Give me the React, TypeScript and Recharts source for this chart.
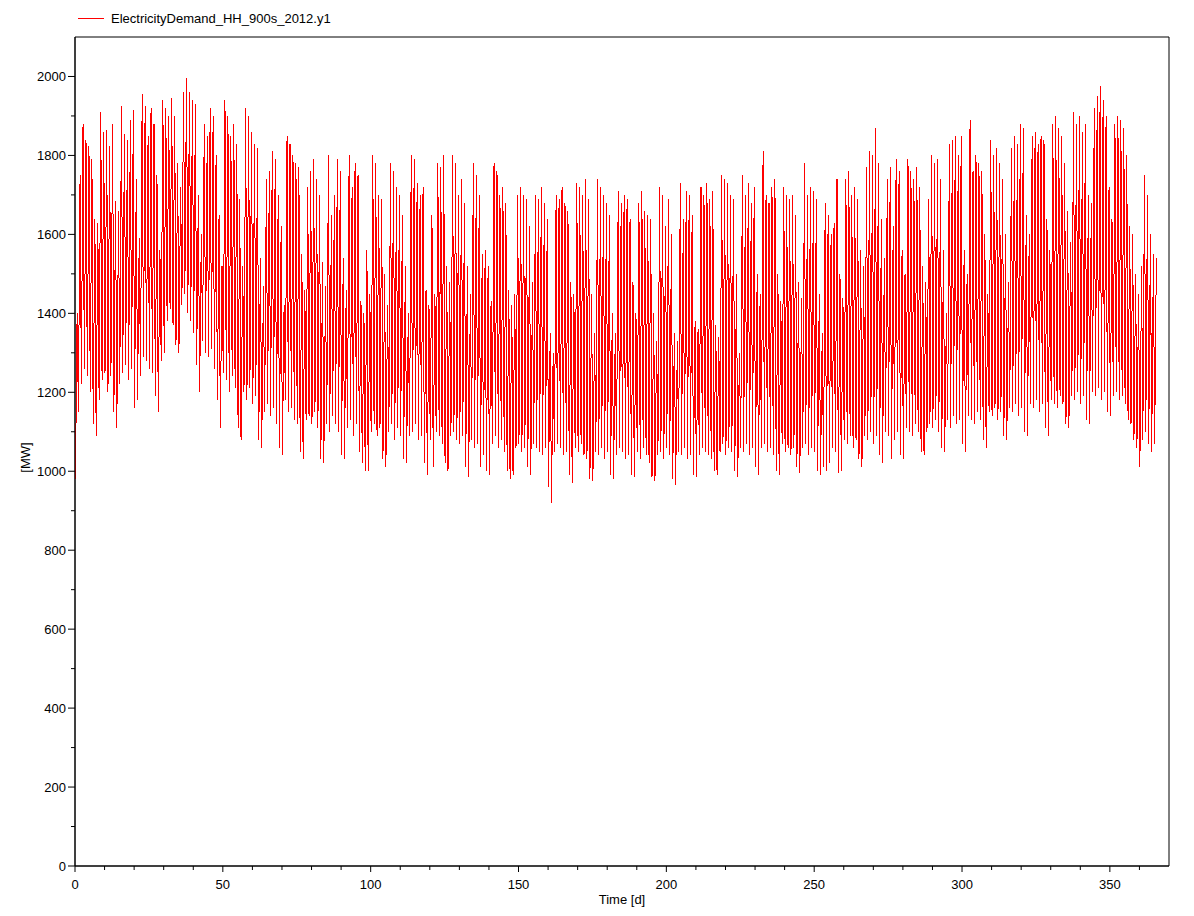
import { LineChart, Line, XAxis, YAxis, ReferenceArea, Label } from "recharts";

// daily evening peak [MW], one row per week (Mon..Sun), day 0 = Sun 1 Jan 2012
const dailyPeak = [
  1400,
  1750, 1880, 1840, 1825, 1790, 1640, 1630,
  1910, 1860, 1865, 1825, 1880, 1685, 1660,
  1925, 1855, 1840, 1890, 1915, 1740, 1590,
  1955, 1925, 1850, 1920, 1880, 1750, 1560,
  1940, 1920, 1900, 1945, 1900, 1780, 1720,
  1960, 1995, 1960, 1940, 1930, 1700, 1600,
  1880, 1850, 1920, 1900, 1800, 1650, 1520,
  1940, 1900, 1850, 1880, 1830, 1690, 1520,
  1920, 1900, 1860, 1830, 1820, 1540, 1470,
  1740, 1760, 1810, 1790, 1700, 1620, 1420,
  1850, 1830, 1800, 1780, 1770, 1550, 1460,
  1720, 1760, 1790, 1740, 1700, 1530, 1470,
  1800, 1650, 1700, 1790, 1760, 1540, 1460,
  1800, 1720, 1780, 1750, 1430, 1400, 1560,
  1450, 1800, 1780, 1700, 1690, 1500, 1420,
  1780, 1760, 1720, 1700, 1650, 1520, 1400,
  1800, 1790, 1730, 1700, 1720, 1460, 1420,
  1650, 1450, 1780, 1770, 1800, 1520, 1480,
  1800, 1780, 1700, 1740, 1680, 1520, 1450,
  1780, 1750, 1700, 1550, 1560, 1520, 1430,
  1780, 1760, 1700, 1720, 1680, 1460, 1420,
  1450, 1700, 1720, 1700, 1690, 1620, 1480,
  1700, 1690, 1720, 1680, 1640, 1350, 1300,
  1700, 1690, 1720, 1680, 1660, 1480, 1450,
  1730, 1720, 1700, 1740, 1690, 1450, 1350,
  1740, 1720, 1700, 1680, 1650, 1400, 1350,
  1710, 1680, 1700, 1690, 1640, 1480, 1400,
  1680, 1710, 1660, 1650, 1640, 1400, 1330,
  1720, 1700, 1620, 1690, 1600, 1350, 1330,
  1730, 1640, 1710, 1700, 1650, 1380, 1360,
  1720, 1700, 1730, 1690, 1710, 1370, 1340,
  1750, 1740, 1730, 1700, 1690, 1500, 1300,
  1750, 1700, 1730, 1680, 1720, 1500, 1450,
  1810, 1700, 1680, 1720, 1740, 1500, 1430,
  1720, 1700, 1690, 1700, 1650, 1480, 1440,
  1780, 1700, 1720, 1710, 1690, 1450, 1350,
  1680, 1650, 1600, 1630, 1740, 1500, 1440,
  1740, 1760, 1700, 1720, 1690, 1560, 1520,
  1770, 1810, 1800, 1870, 1780, 1640, 1540,
  1740, 1770, 1620, 1790, 1760, 1560, 1500,
  1790, 1760, 1740, 1770, 1720, 1520, 1480,
  1690, 1800, 1780, 1790, 1740, 1560, 1400,
  1830, 1840, 1850, 1800, 1850, 1560, 1500,
  1890, 1760, 1800, 1780, 1760, 1600, 1450,
  1840, 1800, 1820, 1780, 1740, 1600, 1480,
  1820, 1850, 1830, 1880, 1870, 1650, 1600,
  1850, 1860, 1830, 1850, 1840, 1640, 1560,
  1880, 1900, 1870, 1850, 1780, 1660, 1580,
  1910, 1880, 1900, 1860, 1880, 1700, 1680,
  1920, 1950, 1975, 1940, 1900, 1720, 1640,
  1880, 1900, 1890, 1870, 1800, 1620, 1600,
  1500, 1450, 1520, 1750, 1700, 1600, 1550,
  1540,
];

// daily night trough [MW], same layout
const dailyTrough = [
  980,
  1150, 1220, 1260, 1240, 1200, 1120, 1090,
  1180, 1230, 1250, 1200, 1240, 1150, 1110,
  1220, 1250, 1270, 1230, 1260, 1160, 1180,
  1240, 1290, 1280, 1260, 1250, 1190, 1150,
  1280, 1300, 1380, 1410, 1370, 1320, 1300,
  1420, 1450, 1400, 1380, 1350, 1270, 1200,
  1330, 1300, 1290, 1310, 1260, 1180, 1110,
  1250, 1230, 1200, 1240, 1210, 1110, 1080,
  1200, 1180, 1210, 1170, 1190, 1080, 1060,
  1150, 1170, 1140, 1160, 1120, 1060, 1040,
  1180, 1150, 1160, 1130, 1120, 1050, 1030,
  1130, 1140, 1120, 1150, 1110, 1030, 1020,
  1120, 1100, 1140, 1120, 1100, 1040, 1030,
  1110, 1130, 1090, 1120, 1050, 1020, 1000,
  1000, 1100, 1120, 1090, 1110, 1030, 1010,
  1100, 1120, 1080, 1110, 1090, 1030, 1020,
  1090, 1100, 1120, 1080, 1090, 1020, 990,
  1080, 1010, 1100, 1090, 1070, 1020, 1000,
  1090, 1100, 1080, 1070, 1090, 1010, 985,
  1080, 1060, 1070, 1010, 1040, 1000, 990,
  1070, 1090, 1060, 1080, 1050, 1000, 980,
  990, 1060, 1070, 1050, 1060, 1010, 990,
  1070, 1060, 1050, 1040, 1060, 960, 920,
  1050, 1070, 1060, 1040, 1050, 990, 970,
  1060, 1050, 1070, 1040, 1030, 980, 975,
  1050, 1040, 1060, 1030, 1050, 990, 980,
  1040, 1060, 1050, 1030, 1040, 990, 985,
  1050, 1030, 1060, 1040, 1020, 985, 975,
  1040, 1050, 1030, 1060, 1040, 980, 965,
  1050, 1040, 1060, 1030, 1040, 990, 985,
  1040, 1060, 1050, 1040, 1030, 1000, 990,
  1050, 1070, 1040, 1060, 1050, 1000, 985,
  1060, 1050, 1070, 1040, 1060, 1010, 990,
  1060, 1070, 1050, 1060, 1040, 1000, 990,
  1070, 1050, 1060, 1040, 1060, 1010, 995,
  1060, 1070, 1040, 1060, 1050, 1000, 990,
  1010, 1000, 1020, 1060, 1050, 995, 1000,
  1080, 1070, 1090, 1060, 1080, 1030, 1010,
  1090, 1080, 1100, 1070, 1090, 1040, 1020,
  1100, 1090, 1030, 1080, 1100, 1040, 1030,
  1110, 1100, 1090, 1120, 1100, 1050, 1040,
  1100, 1120, 1110, 1130, 1100, 1060, 1050,
  1130, 1110, 1140, 1120, 1130, 1070, 1050,
  1140, 1130, 1120, 1150, 1130, 1080, 1060,
  1150, 1140, 1160, 1130, 1150, 1090, 1080,
  1160, 1150, 1170, 1140, 1160, 1100, 1090,
  1170, 1160, 1180, 1150, 1170, 1110, 1090,
  1180, 1170, 1160, 1190, 1170, 1120, 1110,
  1190, 1180, 1200, 1170, 1190, 1130, 1120,
  1200, 1190, 1210, 1180, 1200, 1150, 1140,
  1190, 1200, 1180, 1190, 1170, 1130, 1120,
  1080, 1060, 1010, 1080, 1100, 1070, 1050,
  1070,
];

const xTicks = [0, 10, 20, 30, 40, 50, 60, 70, 80, 90, 100, 110, 120, 130, 140, 150, 160, 170, 180, 190, 200, 210, 220, 230, 240, 250, 260, 270, 280, 290, 300, 310, 320, 330, 340, 350, 360];
const yTicks = [0, 100, 200, 300, 400, 500, 600, 700, 800, 900, 1000, 1100, 1200, 1300, 1400, 1500, 1600, 1700, 1800, 1900, 2000];

// trough at night, peak in the evening of each day
const series: { t: number; v: number }[] = [];
dailyPeak.forEach((p, d) => {
  series.push({ t: d + 0.15, v: dailyTrough[d] });
  series.push({ t: d + 0.72, v: p });
});

const FONT = "'Liberation Sans', Arial, sans-serif";

const XTick = (props: any) => {
  const { x, y, payload } = props;
  const major = payload.value % 50 === 0;
  return (
    <g>
      <line x1={x} y1={y} x2={x} y2={y + (major ? 6 : 4)} stroke="#000" />
      {major && (
        <text x={x} y={y + 23} textAnchor="middle" fontSize={13} fontFamily={FONT} fill="#000">
          {payload.value}
        </text>
      )}
    </g>
  );
};

const YTick = (props: any) => {
  const { x, y, payload } = props;
  const major = payload.value % 200 === 0;
  return (
    <g>
      <line x1={x} y1={y} x2={x - (major ? 7 : 4)} y2={y} stroke="#000" />
      {major && (
        <text x={x - 9} y={y + 5} textAnchor="end" fontSize={13} fontFamily={FONT} fill="#000">
          {payload.value}
        </text>
      )}
    </g>
  );
};

export default function App() {
  return (
    <div style={{ position: "relative", width: 1178, height: 900, fontFamily: FONT }}>
      <div style={{ position: "absolute", left: 70, top: 3, display: "flex", alignItems: "center", fontSize: 13, color: "#000" }}>
        <span style={{ display: "inline-block", width: 26, borderTop: "1px solid #ff0000", marginRight: 7 }} />
        <span>ElectricityDemand_HH_900s_2012.y1</span>
      </div>
      <LineChart width={1178} height={900} data={series} margin={{ top: 29, right: 17, bottom: 12, left: 7 }}>
        <XAxis
          dataKey="t"
          type="number"
          domain={[0, 370]}
          ticks={xTicks}
          interval={0}
          tickSize={0}
          tickMargin={0}
          tickLine={false}
          tick={(p: any) => <XTick {...p} />}
          axisLine={{ stroke: "#000" }}
          height={30}
        >
          <Label
            content={(p: any) => {
              const vb = p.viewBox;
              return (
                <text x={vb.x + vb.width / 2} y={vb.y + 38} textAnchor="middle" fontSize={13} fontFamily={FONT} fill="#000">
                  Time [d]
                </text>
              );
            }}
          />
        </XAxis>
        <YAxis
          type="number"
          domain={[0, 2100]}
          ticks={yTicks}
          interval={0}
          tickSize={0}
          tickMargin={0}
          tickLine={false}
          tick={(p: any) => <YTick {...p} />}
          axisLine={{ stroke: "#000" }}
          width={60}
        >
          <Label
            content={(p: any) => {
              const vb = p.viewBox;
              const cx = vb.x + 15;
              const cy = vb.y + vb.height / 2 + 6;
              return (
                <text x={cx} y={cy} transform={`rotate(-90 ${cx} ${cy})`} textAnchor="middle" fontSize={13} fontFamily={FONT} fill="#000">
                  [MW]
                </text>
              );
            }}
          />
        </YAxis>
        <ReferenceArea x1={0} x2={370} y1={0} y2={2100} fill="none" stroke="#000" strokeOpacity={1} fillOpacity={0} />
        <Line
          type="linear"
          dataKey="v"
          stroke="#ff0000"
          strokeWidth={1}
          dot={false}
          isAnimationActive={false}
          style={{ shapeRendering: "crispEdges" }}
        />
      </LineChart>
    </div>
  );
}
